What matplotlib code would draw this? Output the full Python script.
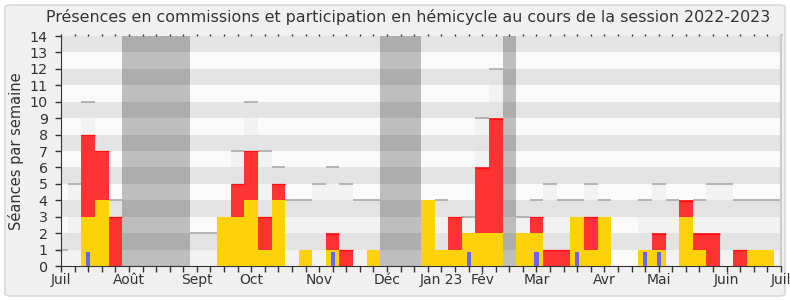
import matplotlib
matplotlib.use("Agg")
import matplotlib.pyplot as plt
from matplotlib.patches import FancyBboxPatch

# ---- data (week index 0..53, week 0 = first week of July 2022) ----
weeks = list(range(54))
# light grey "total" bars
overlay = [1, 5, 10, 0, 4, 0, 0, 0, 0, 0,
           2, 2, 0, 7, 10, 7, 6, 4, 4, 5,
           6, 5, 4, 4, 0, 0, 0, 0, 4, 0,
           3, 9, 12, 0, 3, 4, 5, 4, 4, 5,
           4, 0, 0, 4, 5, 4, 0, 4, 5, 5,
           4, 4, 4, 4]
# red bars (commission presences, top value)
red = [0, 0, 8, 7, 3, 0, 0, 0, 0, 0,
       0, 0, 0, 5, 7, 3, 5, 0, 0, 0,
       2, 1, 0, 0, 0, 0, 0, 0, 0, 3,
       0, 6, 9, 0, 0, 3, 1, 1, 0, 3,
       0, 0, 0, 0, 2, 0, 4, 2, 2, 0,
       1, 0, 0, 0]
# yellow bars (hemicycle participation)
yellow = [0, 0, 3, 4, 0, 0, 0, 0, 0, 0,
          0, 0, 3, 3, 4, 1, 4, 0, 1, 0,
          1, 0, 0, 1, 0, 0, 0, 4, 1, 1,
          2, 2, 2, 0, 2, 2, 0, 0, 3, 1,
          3, 0, 0, 1, 1, 0, 3, 1, 0, 0,
          0, 1, 1, 0]
# blue thin bars
blue_weeks = [2, 20, 30, 35, 38, 43, 44]
blue_vals = [0.85, 0.85, 0.85, 0.85, 0.85, 0.85, 0.85]
# vacation periods (first week, last week)
vacations = [(5, 9), (24, 26), (33, 33)]
# month labels
month_weeks = [0, 5, 10, 14, 19, 24, 28, 31, 35, 40, 44, 49, 53]
month_labels = ["Juil", "Août", "Sept", "Oct", "Nov", "Déc", "Jan 23", "Fév",
                "Mar", "Avr", "Mai", "Juin", "Juil"]
ymax = 14
title = "Présences en commissions et participation en hémicycle au cours de la session 2022-2023"

plt.rcParams['font.family'] = ['DejaVu Sans']
fig = plt.figure(figsize=(7.9, 3.0), dpi=100, facecolor='white')
frame = FancyBboxPatch((5 / 790, 4 / 300), 780 / 790, 291 / 300,
                       boxstyle="round,pad=0,rounding_size=0.008",
                       transform=fig.transFigure, facecolor='#f0f0f0',
                       edgecolor='#d9d9d9', linewidth=1.2, zorder=-10)
fig.patches.append(frame)

ax = fig.add_axes([61 / 790, 1 - 266 / 300, 720 / 790, 230 / 300])
ax.set_facecolor('#fafafa')

# alternating horizontal bands
for k in range(ymax):
    ax.axhspan(k, k + 1, color='#fafafa' if k % 2 == 0 else '#e4e4e4',
               lw=0, zorder=0)

# vacation bands
for a, b in vacations:
    ax.axvspan(a - 0.5, b + 0.5, color='black', alpha=0.24, lw=0, zorder=1)

# overlay grey bars with top line
for w, v in zip(weeks, overlay):
    if v > 0:
        ax.bar(w, v, width=1.0, color='#e2e2e2', alpha=0.3, lw=0, zorder=2)
        ax.plot([w - 0.5, w + 0.5], [v, v], color='#aaaaaa', lw=1.2,
                zorder=2.5, solid_capstyle='butt')

for w, v in zip(weeks, red):
    if v > 0:
        ax.bar(w, v, width=1.0, color='#ff3333', lw=0, zorder=3)
        ax.plot([w - 0.5, w + 0.5], [v - 0.03, v - 0.03], color='#ff1010',
                lw=0.9, zorder=3.2, solid_capstyle='butt')
for w, v in zip(weeks, yellow):
    if v > 0:
        ax.bar(w, v, width=1.0, color='#fdd20a', lw=0, zorder=4)
ax.bar(blue_weeks, blue_vals, width=0.3, color='#6666ff', lw=0, zorder=5)

ax.set_xlim(0, 53)
ax.set_ylim(0, ymax)
ax.set_yticks(range(0, ymax + 1))
ax.set_xticks(weeks)
labels = [''] * len(weeks)
for w, l in zip(month_weeks, month_labels):
    labels[w] = l
ax.set_xticklabels(labels)
ax.tick_params(axis='x', which='major', length=4, width=1, color='#333333',
               labelsize=10, labelcolor='#333333', pad=1,
               top=True, direction='out')
ax.tick_params(axis='y', length=4.5, width=1, color='#333333', labelsize=10.3,
               labelcolor='#333333', pad=5)
for t in ax.xaxis.get_major_ticks():
    t.tick2line.set_markersize(1.5)
    t.tick2line.set_color('#333333')

ax.spines['left'].set_color('#333333')
ax.spines['bottom'].set_color('#333333')
ax.spines['top'].set_visible(False)
ax.spines['right'].set_color('#cccccc')
ax.spines['right'].set_linewidth(1.5)

ax.set_ylabel("Séances par semaine", fontsize=10.5, color='#333333', labelpad=4)
fig.text(408.5 / 790, 1 - 17 / 300, title, fontsize=11.4, color='#333333',
         ha='center', va='center')

fig.savefig("out.png", dpi=100, facecolor='white')
